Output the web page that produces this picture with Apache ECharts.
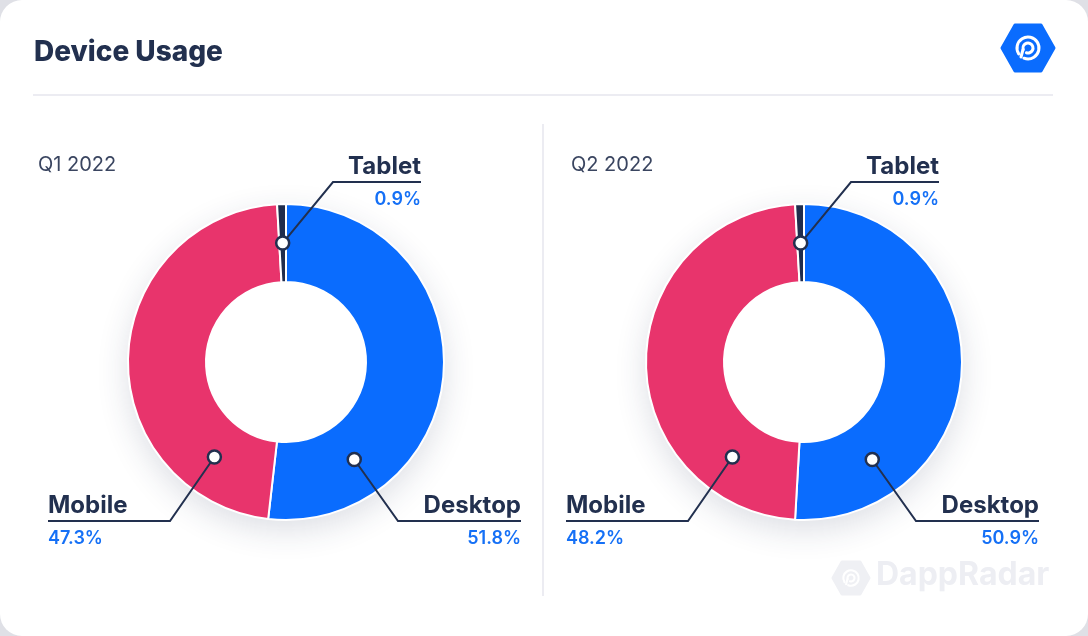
<!DOCTYPE html>
<html>
<head>
<meta charset="utf-8">
<script src="https://cdn.jsdelivr.net/npm/echarts@6/dist/echarts.min.js"></script>
<style>
  html, body { margin: 0; padding: 0; background: #dfe0e6; }
  #card { position: absolute; left: 0; top: 0; width: 1088px; height: 636px; background: #ffffff; border-radius: 22px; overflow: hidden; }
  #chart { width: 1088px; height: 636px; }
</style>
</head>
<body>
<div id="card"><div id="chart"></div></div>
<script>
// ---------- data ----------
const chartTitle = 'Device Usage';
const periods = ['Q1 2022', 'Q2 2022'];
const categories = ['Desktop', 'Mobile', 'Tablet'];
const q1Values = [51.8, 47.3, 0.9];
const q2Values = [50.9, 48.2, 0.9];
const seriesValues = [q1Values, q2Values];
// where each label line starts on the ring (degrees clockwise from 12 o'clock)
const anchorAngles = [145, 217, 358.4];

// ---------- layout / style ----------
const FONT = 'Inter, "Noto Sans", sans-serif';
const centers = [[286, 362], [804, 362]];
const innerR = 80, outerR = 158, anchorR = 119;
const colors = ['#0a6cfe', '#e8346c', '#202d4d'];
const navy = '#22304f';
const blue = '#1570f6';
// label line elbow/end offsets relative to the donut centre
const labelCfg = [
  { elbow: [112, 159], end: [235, 159], align: 'right' },   // Desktop
  { elbow: [-116, 159], end: [-238, 159], align: 'left' },  // Mobile
  { elbow: [47, -180], end: [135, -180], align: 'right' }   // Tablet
];

const chart = echarts.init(document.getElementById('chart'), null, { renderer: 'canvas' });

function fmtPct(v) { return v.toFixed(1) + '%'; }

const polar = centers.map(c => ({ center: c, radius: outerR }));
const angleAxis = centers.map((c, i) => ({
  polarIndex: i, type: 'value', min: 0, max: 360, startAngle: 90, clockwise: true,
  axisLine: { show: false }, axisTick: { show: false }, axisLabel: { show: false }, splitLine: { show: false }
}));
const radiusAxis = centers.map((c, i) => ({
  polarIndex: i, type: 'value', min: 0, max: outerR,
  axisLine: { show: false }, axisTick: { show: false }, axisLabel: { show: false }, splitLine: { show: false }
}));

const series = [];
const dotIdx = [];
// shadow discs behind the donuts
centers.forEach((c, i) => {
  series.push({
    type: 'pie', center: c, radius: [0, outerR], silent: true, z: 0,
    label: { show: false }, labelLine: { show: false },
    itemStyle: { color: '#ffffff', shadowBlur: 32, shadowColor: 'rgba(40,50,90,0.16)', shadowOffsetY: 10 },
    data: [{ value: 1, name: 'bg' }]
  });
});
// donuts
centers.forEach((c, i) => {
  series.push({
    type: 'pie', center: c, radius: [innerR, outerR], startAngle: 90, clockwise: true,
    z: 2, silent: true,
    emphasis: { disabled: true },
    itemStyle: { borderColor: '#ffffff', borderWidth: 2 },
    label: { show: false }, labelLine: { show: false },
    data: categories.map((name, k) => ({ name: name, value: seriesValues[i][k], itemStyle: { color: colors[k] } }))
  });
});
// transparent overlay pies carrying the labels + label lines (drawn above the donut)
centers.forEach((c, i) => {
  series.push({
    type: 'pie', center: c, radius: [innerR, outerR], startAngle: 90, clockwise: true,
    z: 5, silent: true, avoidLabelOverlap: false, minShowLabelAngle: 0,
    emphasis: { disabled: true },
    itemStyle: { color: 'rgba(0,0,0,0)', borderWidth: 0 },
    label: {
      show: true, position: 'outside',
      formatter: p => '{n|' + p.name + '}\n{v|' + fmtPct(p.value) + '}',
      rich: {
        n: { fontFamily: FONT, fontSize: 24, fontWeight: 700, color: navy, lineHeight: 30 },
        v: { fontFamily: FONT, fontSize: 18, fontWeight: 600, color: blue, lineHeight: 36 }
      }
    },
    labelLine: { show: true, length: 10, length2: 10, smooth: false, lineStyle: { color: navy, width: 2 } },
    labelLayout: function (params) {
      const k = params.dataIndex;
      const cfg = labelCfg[k];
      let dot = null;
      try { dot = chart.convertToPixel({ seriesIndex: dotIdx[i] }, [anchorR, anchorAngles[k]]); } catch (e) { dot = null; }
      if (!dot || isNaN(dot[0])) {
        const a = anchorAngles[k] * Math.PI / 180;
        dot = [c[0] + anchorR * Math.sin(a), c[1] - anchorR * Math.cos(a)];
      }
      const elbow = [c[0] + cfg.elbow[0], c[1] + cfg.elbow[1]];
      const end = [c[0] + cfg.end[0], c[1] + cfg.end[1]];
      return {
        x: end[0], y: end[1] - 30, align: cfg.align, verticalAlign: 'top',
        labelLinePoints: [dot, elbow, end]
      };
    },
    data: categories.map((name, k) => ({ name: name, value: seriesValues[i][k] }))
  });
});
// anchor dots
centers.forEach((c, i) => {
  dotIdx[i] = series.length;
  series.push({
    type: 'scatter', coordinateSystem: 'polar', polarIndex: i, z: 10, silent: true,
    symbol: 'circle', symbolSize: 13,
    itemStyle: { color: '#ffffff', borderColor: navy, borderWidth: 2.5, opacity: 1 },
    data: anchorAngles.map((a, k) => ({ name: categories[k], value: [anchorR, a] }))
  });
});

function radarIcon(cx, cy, s, color) {
  return [
    { type: 'arc', shape: { cx: cx, cy: cy, r: 11 * s, startAngle: Math.PI * 0.82, endAngle: Math.PI * 2.62 },
      style: { stroke: color, fill: null, lineWidth: 3 * s, lineCap: 'round' }, silent: true },
    { type: 'arc', shape: { cx: cx, cy: cy, r: 5 * s, startAngle: Math.PI * 0.9, endAngle: Math.PI * 2.6 },
      style: { stroke: color, fill: null, lineWidth: 3 * s, lineCap: 'round' }, silent: true },
    { type: 'line', shape: { x1: cx - 5 * s, y1: cy + 1.5 * s, x2: cx - 7 * s, y2: cy + 9 * s },
      style: { stroke: color, lineWidth: 3 * s, lineCap: 'round' }, silent: true }
  ];
}
function hexPts(cx, cy, hw, hh) {
  return [[cx - hw, cy], [cx - hw / 2, cy - hh], [cx + hw / 2, cy - hh], [cx + hw, cy], [cx + hw / 2, cy + hh], [cx - hw / 2, cy + hh]];
}

const graphic = [
  { type: 'line', shape: { x1: 33, y1: 95, x2: 1053, y2: 95 }, style: { stroke: '#ececf2', lineWidth: 2 }, silent: true },
  { type: 'line', shape: { x1: 543, y1: 124, x2: 543, y2: 596 }, style: { stroke: '#ececf2', lineWidth: 2 }, silent: true },
  { type: 'polygon', shape: { points: hexPts(1028, 48, 26, 23) }, style: { fill: '#0a6cfe', stroke: '#0a6cfe', lineWidth: 3, lineJoin: 'round' }, silent: true },
  ...radarIcon(1028, 48, 1, '#ffffff'),
  { type: 'polygon', shape: { points: hexPts(851, 578, 18, 16) }, style: { fill: '#eff0f4', stroke: '#eff0f4', lineWidth: 3, lineJoin: 'round' }, silent: true, z: -1 },
  ...radarIcon(851, 578, 0.7, '#ffffff').map(g => Object.assign(g, { z: -1 })),
  { type: 'text', left: 876, top: 559, z: -1, silent: true,
    style: { text: 'DappRadar', fill: '#edeef3', font: '700 32px ' + FONT } }
];

const option = {
  animation: false,
  backgroundColor: 'transparent',
  title: [
    { text: chartTitle, left: 29, top: 34, textStyle: { fontFamily: FONT, fontSize: 28, fontWeight: 800, color: navy } },
    { text: periods[0], left: 33, top: 150, textStyle: { fontFamily: FONT, fontSize: 20, fontWeight: 400, color: '#3a4560' } },
    { text: periods[1], left: 566, top: 150, textStyle: { fontFamily: FONT, fontSize: 20, fontWeight: 400, color: '#3a4560' } }
  ],
  polar: polar,
  angleAxis: angleAxis,
  radiusAxis: radiusAxis,
  graphic: graphic,
  series: series
};
chart.setOption(option);
</script>
</body>
</html>
